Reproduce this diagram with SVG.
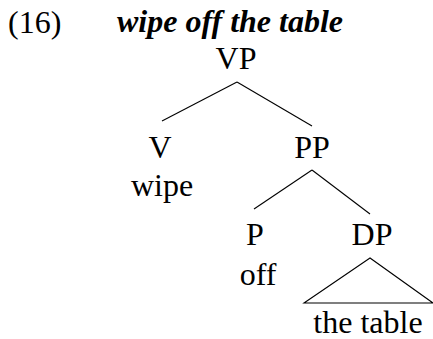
<svg xmlns="http://www.w3.org/2000/svg" width="433" height="339" viewBox="0 0 433 339">
  <style>
    text { font-family: "Liberation Serif", "Times New Roman", serif; font-size: 32px; fill: #000; }
    .mid { text-anchor: middle; }
    .title { font-weight: bold; font-style: italic; }
    .edge { stroke: #000; stroke-width: 1.1; fill: none; }
  </style>
  <rect width="433" height="339" fill="#fff"/>

  <!-- example number and caption -->
  <text x="8" y="33">(16)</text>
  <text class="title" x="117" y="32">wipe off the table</text>

  <!-- branches -->
  <g id="connectors">
    <line class="edge" x1="237" y1="82" x2="162" y2="121"/>
    <line class="edge" x1="237" y1="82" x2="312" y2="126"/>
    <line class="edge" x1="312" y1="170" x2="254" y2="209"/>
    <line class="edge" x1="312" y1="170" x2="370" y2="214"/>
    <polygon class="edge" points="370,258 304,303 433,303"/>
  </g>

  <g id="VP"><text class="mid" x="236" y="69">VP</text></g>
  <g id="V">
    <text class="mid" x="160" y="158">V</text>
    <text class="mid" x="162" y="196">wipe</text>
  </g>
  <g id="PP"><text class="mid" x="312" y="158">PP</text></g>
  <g id="P">
    <text class="mid" x="255" y="245">P</text>
    <text class="mid" x="258" y="285">off</text>
  </g>
  <g id="DP">
    <text class="mid" x="372" y="245">DP</text>
    <text class="mid" x="368" y="333">the table</text>
  </g>
</svg>
